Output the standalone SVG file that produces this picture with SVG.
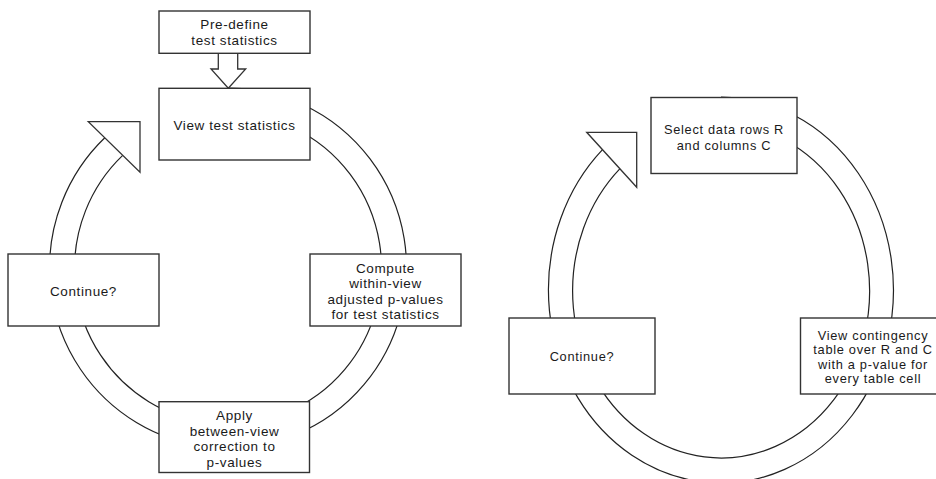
<svg xmlns="http://www.w3.org/2000/svg" width="936" height="479" viewBox="0 0 936 479">
<style>
.box{fill:#fff;stroke:#333;stroke-width:1.4}
.arc{fill:none;stroke:#222;stroke-width:1.2}
.head{fill:#fff;stroke:#333;stroke-width:1.3;stroke-linejoin:miter}
.t{font-family:"Liberation Sans",Arial,sans-serif;font-size:13.5px;letter-spacing:0.6px;fill:#1a1a1a;text-anchor:middle}
.t2{font-family:"Liberation Sans",Arial,sans-serif;font-size:12.8px;letter-spacing:0.7px;fill:#1a1a1a;text-anchor:middle}
</style>
<rect width="936" height="479" fill="#fff"/>
<g id="connectors">
  <path class="arc" d="M228,88 A178.5,180 0 1 1 104.8,137.8"/>
  <path class="arc" d="M228,113 A153.5,155.5 0 1 1 122.7,155.4"/>
  <polygon class="head" points="88.3,121.7 140,121.7 140,172.3"/>
  <polygon class="head" points="218.3,53.3 237.7,53.3 237.7,69 245.7,69 228.3,88.3 211,69 218.3,69"/>
  <path class="arc" d="M721,97 A172.5,193 0 1 1 602.5,149.7"/>
  <path class="arc" d="M721,124 A148.5,167 0 1 1 620,168.7"/>
  <polygon class="head" points="586.7,132.3 636.7,132.3 636.7,187.3"/>
</g>
<g id="predefine">
  <rect class="box" x="159" y="11" width="151" height="42.3"/>
  <text class="t"><tspan x="234.5" y="29">Pre-define</tspan><tspan x="234.5" y="45">test statistics</tspan></text>
</g>
<g id="view">
  <rect class="box" x="159" y="88.3" width="151" height="71.7"/>
  <text class="t" x="234.5" y="129.5">View test statistics</text>
</g>
<g id="continue1">
  <rect class="box" x="8" y="254" width="151" height="72"/>
  <text class="t" x="83.5" y="295.5">Continue?</text>
</g>
<g id="compute">
  <rect class="box" x="310" y="254" width="151" height="72"/>
  <text class="t"><tspan x="385.5" y="273">Compute</tspan><tspan x="385.5" y="288.4">within-view</tspan><tspan x="385.5" y="303.8">adjusted p-values</tspan><tspan x="385.5" y="319.2">for test statistics</tspan></text>
</g>
<g id="apply">
  <rect class="box" x="159" y="401.7" width="150.5" height="70.8"/>
  <text class="t"><tspan x="234.5" y="420.4">Apply</tspan><tspan x="234.5" y="435.8">between-view</tspan><tspan x="234.5" y="451.2">correction to</tspan><tspan x="234.5" y="466.6">p-values</tspan></text>
</g>
<g id="select">
  <rect class="box" x="651" y="97.5" width="146" height="76"/>
  <text class="t2"><tspan x="724" y="134">Select data rows R</tspan><tspan x="724" y="149.5">and columns C</tspan></text>
</g>
<g id="continue2">
  <rect class="box" x="509" y="318" width="146" height="76"/>
  <text class="t2" x="582" y="361">Continue?</text>
</g>
<g id="contingency">
  <rect class="box" x="800.5" y="318" width="146" height="76"/>
  <text class="t2"><tspan x="873" y="339.5">View contingency</tspan><tspan x="873" y="354">table over R and C</tspan><tspan x="873" y="368.5">with a p-value for</tspan><tspan x="873" y="383">every table cell</tspan></text>
</g>
</svg>
